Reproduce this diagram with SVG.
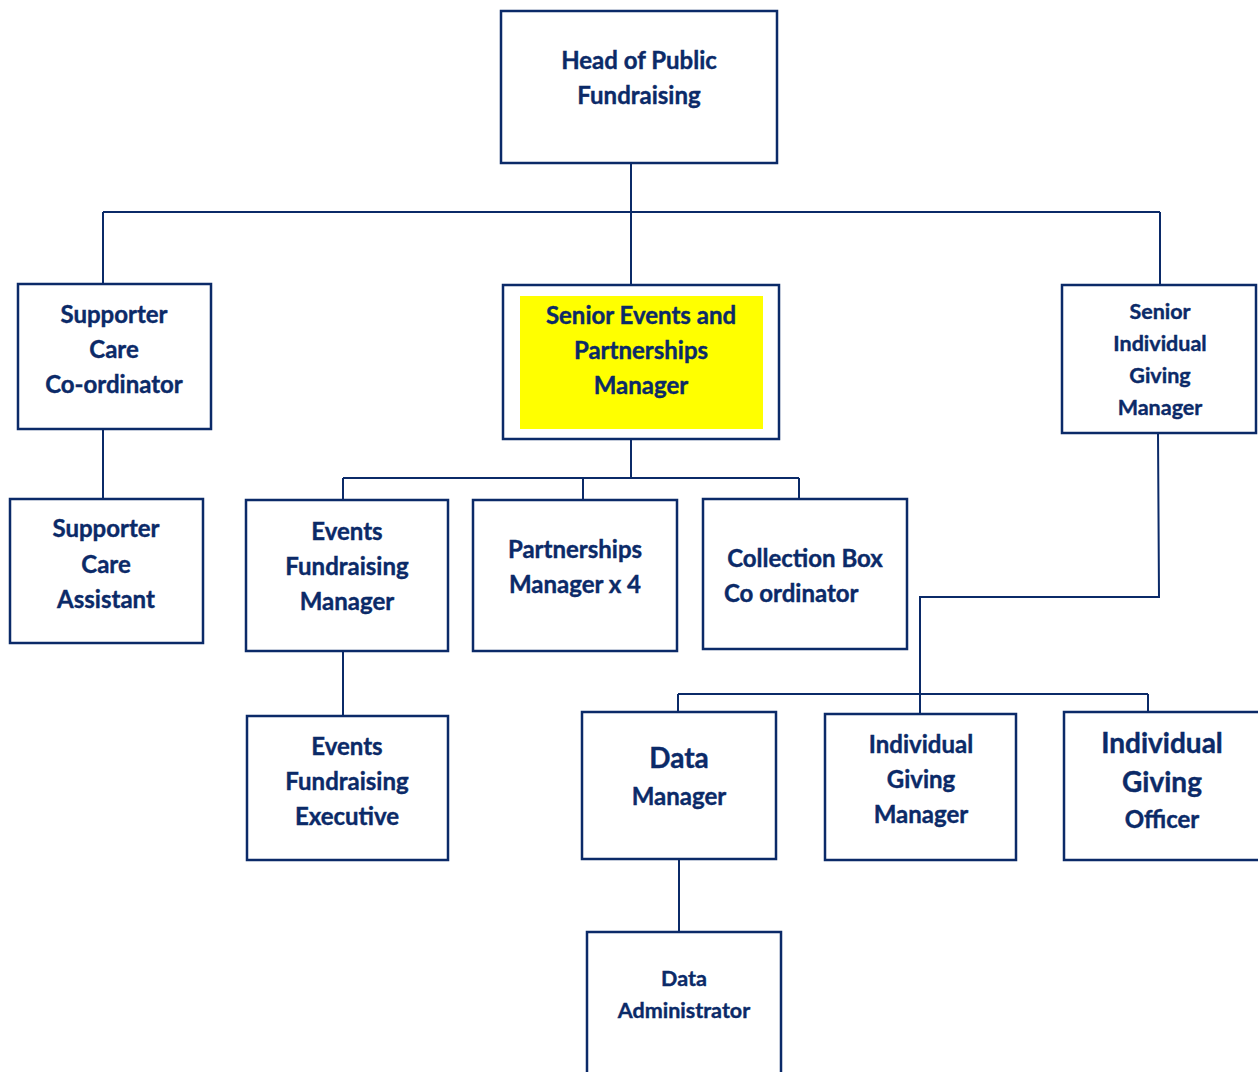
<svg xmlns="http://www.w3.org/2000/svg" width="1258" height="1072" viewBox="0 0 1258 1072">
<style>
.box{fill:#fff;stroke:#0b2a68;stroke-width:2.5}
.ln{fill:none;stroke:#0b2a68;stroke-width:2}
text{font-family:Lato,"Liberation Sans",sans-serif;font-weight:bold;fill:#0b2a68;text-anchor:middle;dominant-baseline:central;stroke:#0b2a68;stroke-width:0.4}
.s22{font-size:24px}
.s20{font-size:21.5px}
.s26{font-size:28px}
</style>
<rect width="1258" height="1072" fill="#fff"/>
<g id="connectors">
<path class="ln" d="M631 163V285M103 212H1160M103 212V284M1160 212V285"/>
<path class="ln" d="M103 429V499"/>
<path class="ln" d="M631 439V478M343 478H799M343 478V500M583 478V500M799 478V499"/>
<path class="ln" d="M343 651V716"/>
<path class="ln" d="M1158 433L1159 597H920V714M678 694H1148M678 694V712M1148 694V712"/>
<path class="ln" d="M679 859V932"/>
</g>
<g id="head"><rect class="box" x="501" y="11" width="276" height="152"/>
<text class="s22" x="639" y="59">Head of Public</text><text class="s22" x="639" y="94">Fundraising</text></g>
<g id="supporter-coord"><rect class="box" x="18" y="284" width="193" height="145"/>
<text class="s22" x="114" y="313">Supporter</text><text class="s22" x="114" y="348">Care</text><text class="s22" x="114" y="383">Co-ordinator</text></g>
<g id="supporter-assistant"><rect class="box" x="10" y="499" width="193" height="144"/>
<text class="s22" x="106" y="527">Supporter</text><text class="s22" x="106" y="563">Care</text><text class="s22" x="106" y="598">Assistant</text></g>
<g id="senior-events"><rect class="box" x="503" y="285" width="276" height="154"/>
<rect x="520" y="296" width="243" height="133" fill="#ffff00"/>
<text class="s22" x="641" y="314">Senior Events and</text><text class="s22" x="641" y="349">Partnerships</text><text class="s22" x="641" y="384">Manager</text></g>
<g id="senior-ig"><rect class="box" x="1062" y="285" width="194" height="148"/>
<text class="s20" x="1160" y="311">Senior</text><text class="s20" x="1160" y="343">Individual</text><text class="s20" x="1160" y="375">Giving</text><text class="s20" x="1160" y="407">Manager</text></g>
<g id="events-manager"><rect class="box" x="246" y="500" width="202" height="151"/>
<text class="s22" x="347" y="530">Events</text><text class="s22" x="347" y="565">Fundraising</text><text class="s22" x="347" y="600">Manager</text></g>
<g id="partnerships"><rect class="box" x="473" y="500" width="204" height="151"/>
<text class="s22" x="575" y="548">Partnerships</text><text class="s22" x="575" y="583">Manager x 4</text></g>
<g id="collection"><rect class="box" x="703" y="499" width="204" height="150"/>
<text class="s22" x="805" y="557">Collection Box</text><text class="s22" x="724" y="592" style="text-anchor:start">Co ordinator</text></g>
<g id="events-exec"><rect class="box" x="247" y="716" width="201" height="144"/>
<text class="s22" x="347" y="745">Events</text><text class="s22" x="347" y="780">Fundraising</text><text class="s22" x="347" y="815">Executive</text></g>
<g id="data-manager"><rect class="box" x="582" y="712" width="194" height="147"/>
<text class="s26" x="679" y="757">Data</text><text class="s22" x="679" y="795">Manager</text></g>
<g id="ig-manager"><rect class="box" x="825" y="714" width="191" height="146"/>
<text class="s22" x="921" y="743">Individual</text><text class="s22" x="921" y="778">Giving</text><text class="s22" x="921" y="813">Manager</text></g>
<g id="ig-officer"><rect class="box" x="1064" y="712" width="200" height="148"/>
<text class="s26" x="1162" y="742">Individual</text><text class="s26" x="1162" y="781">Giving</text><text class="s22" x="1162" y="818">Officer</text></g>
<g id="data-admin"><rect class="box" x="587" y="932" width="194" height="150"/>
<text class="s20" x="684" y="978">Data</text><text class="s20" x="684" y="1010">Administrator</text></g>
</svg>
